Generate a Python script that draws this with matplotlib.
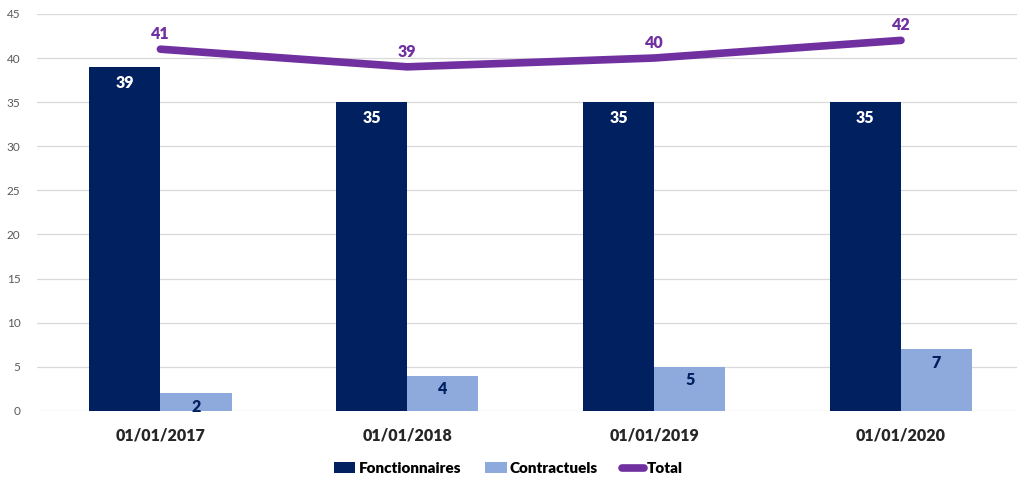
import matplotlib
matplotlib.use("Agg")
import matplotlib.pyplot as plt
import numpy as np

plt.rcParams["font.family"] = ["Lato", "DejaVu Sans"]

dates = ["01/01/2017", "01/01/2018", "01/01/2019", "01/01/2020"]
fonctionnaires = [39, 35, 35, 35]
contractuels = [2, 4, 5, 7]
total = [41, 39, 40, 42]

navy = "#002060"
light = "#8EA9DB"
purple = "#7030A0"

fig = plt.figure(figsize=(10.17, 4.79), dpi=100)
ax = fig.add_axes([37 / 1017, 0.142, 1 - 37 / 1017, 0.829])

x = np.arange(len(dates))
w = 0.288
b1 = ax.bar(x - w / 2, fonctionnaires, w, color=navy, label="Fonctionnaires", zorder=2)
b2 = ax.bar(x + w / 2, contractuels, w, color=light, label="Contractuels", zorder=2)
ln, = ax.plot(x, total, color=purple, lw=5.5, solid_capstyle="round", label="Total", zorder=3)

for rect, v in zip(b1, fonctionnaires):
    ax.text(rect.get_x() + rect.get_width() / 2, v - 0.9, str(v), ha="center", va="top",
            color="white", fontsize=11.5, fontweight="heavy", zorder=4)
for rect, v in zip(b2, contractuels):
    ax.text(rect.get_x() + rect.get_width() / 2, v - 0.6, str(v), ha="center", va="top",
            color=navy, fontsize=11.5, fontweight="heavy", zorder=4)
for xi, v in zip(x, total):
    ax.text(xi, v + 0.8, str(v), ha="center", va="bottom",
            color=purple, fontsize=11.5, fontweight="heavy", zorder=4)

ax.set_xlim(-0.5, 3.47)
ax.set_ylim(0, 45)
ax.set_yticks(range(0, 46, 5))
ax.set_xticks(x)
ax.set_xticklabels(dates, fontsize=11.5, fontweight="heavy", color="#262626")
ax.tick_params(axis="y", labelsize=8.5, labelcolor="#595959", length=0, pad=12)
ax.tick_params(axis="x", length=0, pad=12)
ax.grid(axis="y", color="#d9d9d9", lw=0.9, zorder=0)
for s in ax.spines.values():
    s.set_visible(False)

fig.legend(handles=[b1, b2, ln], loc="center", bbox_to_anchor=(0.5, 0.022),
           ncol=3, frameon=False, handlelength=1.4, handletextpad=0.2,
           columnspacing=1.6, prop={"size": 11, "weight": "heavy"})

fig.savefig("out.png", dpi=100)
